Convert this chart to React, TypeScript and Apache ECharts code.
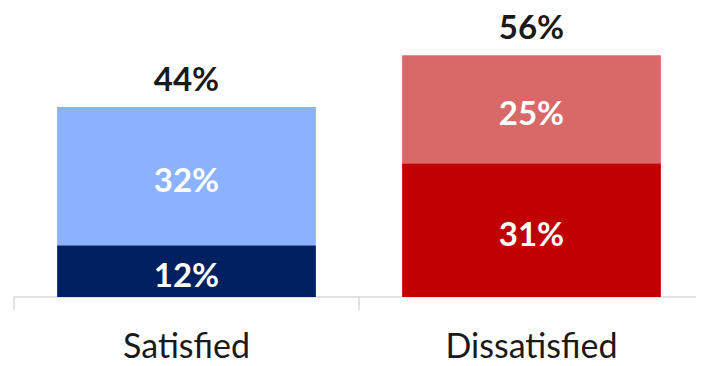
import React, { useEffect, useRef } from "react";
import * as echarts from "echarts";

const categories = ["Satisfied", "Dissatisfied"];
const baseValues = [12, 31];
const topValues = [32, 25];
const totals = [44, 56];
const baseColors = ["#002060", "#C00000"];
const topColors = ["#8AB2FF", "#D96868"];

export default function App() {
  const ref = useRef<HTMLDivElement>(null);
  useEffect(() => {
    if (!ref.current) return;
    const chart = echarts.init(ref.current, undefined, { renderer: "svg" });
    const font = "Lato, 'Open Sans', sans-serif";
    const inside = {
      show: true,
      position: "inside",
      formatter: (p: any) => p.value + "%",
      color: "#fff",
      fontWeight: "bold",
      fontSize: 33,
      fontFamily: font,
      offset: [0, 3],
    };
    chart.setOption({
      animation: false,
      grid: { left: 14, right: 0, top: 38, bottom: 69, containLabel: false },
      xAxis: {
        type: "category",
        data: categories,
        axisLine: { lineStyle: { color: "#D9D9D9", width: 1.5 } },
        axisTick: { show: true, length: 13, lineStyle: { color: "#D9D9D9", width: 1.5 } },
        axisLabel: { color: "#1a1a1a", fontSize: 34, fontFamily: font, margin: 30 },
      },
      yAxis: { type: "value", min: 0, max: 60, show: false, splitLine: { show: false } },
      series: [
        {
          type: "bar",
          stack: "s",
          barWidth: "75%",
          data: baseValues.map((v, i) => ({ value: v, itemStyle: { color: baseColors[i] } })),
          label: inside,
        },
        {
          type: "bar",
          stack: "s",
          barWidth: "75%",
          data: topValues.map((v, i) => ({ value: v, itemStyle: { color: topColors[i] } })),
          label: inside,
        },
        {
          type: "scatter",
          data: totals,
          symbolSize: 0,
          silent: true,
          itemStyle: { opacity: 1 },
          label: {
            show: true,
            position: "top",
            distance: 13,
            formatter: (p: any) => p.value + "%",
            color: "#1a1a1a",
            fontWeight: "bold",
            fontSize: 33,
            fontFamily: font,
          },
        },
      ],
    });
    return () => chart.dispose();
  }, []);
  return <div ref={ref} style={{ width: 704, height: 366, margin: -8 }} />;
}
